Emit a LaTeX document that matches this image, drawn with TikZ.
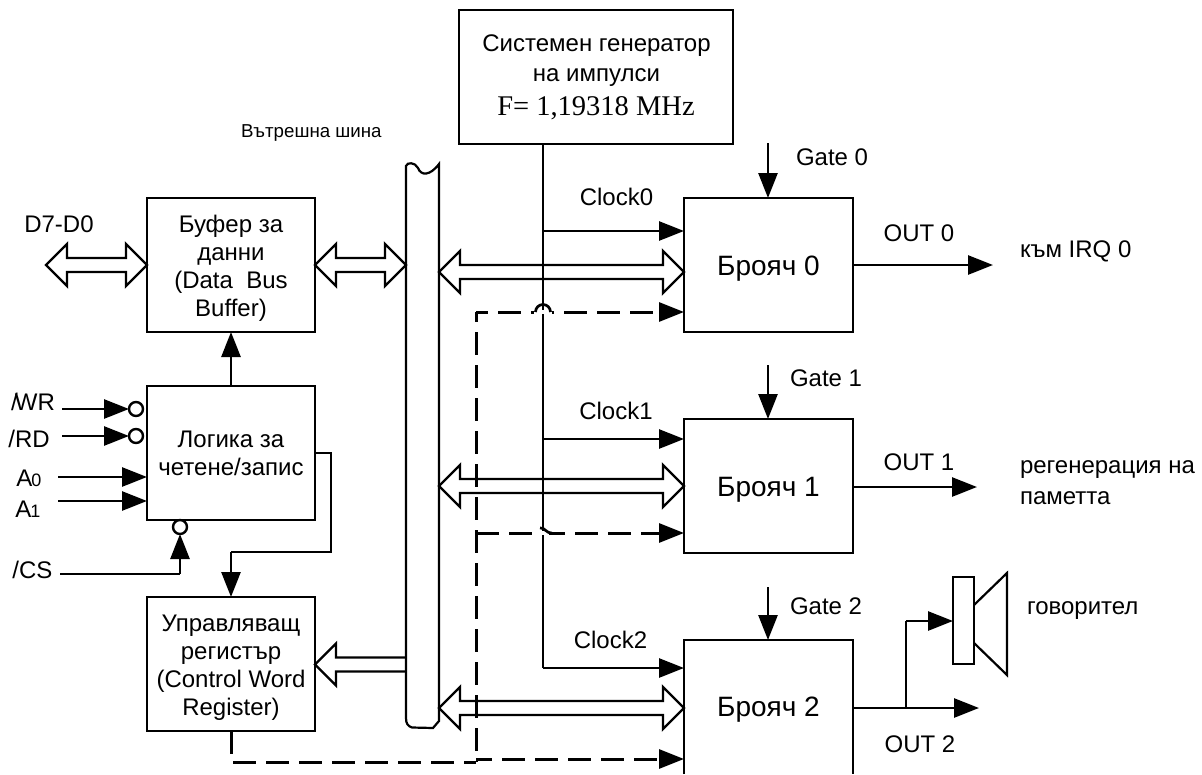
\documentclass[tikz,border=0pt]{standalone}
\usepackage{fontspec}
\setmainfont{Liberation Sans}
\newfontfamily\timesf{Liberation Serif}
\usetikzlibrary{arrows.meta,calc}
\tikzset{
  x=1pt,y=-1pt,
  every node/.style={font=\fontsize{24}{28}\selectfont,inner sep=0pt,outer sep=0pt},
  boxn/.style={draw,line width=2.7pt,align=center,minimum width=168pt,minimum height=134pt},
  cntbox/.style={draw,line width=2.7pt,minimum width=169pt,minimum height=134pt},
  wire/.style={line width=2.7pt},
  arr/.style={line width=2.7pt,-{Triangle[length=25pt,width=19pt]}},
  dashline/.style={line width=3pt,dash pattern=on 23pt off 10pt},
  dasharr/.style={line width=3pt,dash pattern=on 23pt off 10pt,-{Triangle[length=25pt,width=19pt]}},
  bubble/.style={circle,draw,line width=2.4pt,minimum size=14pt},
  lbl/.style={anchor=west},
  cntfont/.style={font=\fontsize{28}{28}\selectfont},
}
\newcommand{\hdbl}[2]{%
  \draw[line width=2.4pt,miter limit=10] let \p1=#1,\p2=#2 in
    (\x1,\y1)--(\x1+21pt,\y1+21pt)--(\x1+21pt,\y1+7pt)--(\x2-21pt,\y1+7pt)--(\x2-21pt,\y1+21pt)--(\x2,\y1)
    --(\x2-21pt,\y1-21pt)--(\x2-21pt,\y1-7pt)--(\x1+21pt,\y1-7pt)--(\x1+21pt,\y1-21pt)--cycle;}
\begin{document}
\begin{tikzpicture}
\useasboundingbox (0,0) rectangle (1202,774);
% main boxes
\node[boxn,minimum width=274pt] (gen) at (596,77) {};
\node (genA) at (596.5,46) {Системен генератор};
\node (genB) at (596.5,78) {на импулси};
\node[font=\timesf\fontsize{28.5}{28}\selectfont] (genC) at (596,108) {F= 1,19318 MHz};
\node[boxn] (buf) at (231,265) {\rule{0pt}{23.5pt}Буфер за\\данни\\(Data\ \ Bus\\Buffer)};
\node[boxn] (logic) at (231,453) {Логика за\\четене/запис};
\node[boxn] (ctrl) at (231,664) {\rule{0pt}{23pt}Управляващ\\регистър\\(Control Word\\Register)};
\node[cntbox,cntfont] (c0) at (768.5,265) {\rule{0pt}{26pt}Брояч 0};
\node[cntbox,cntfont] (c1) at (768.5,486) {\rule{0pt}{26pt}Брояч 1};
\node[cntfont] (c2) at (768.5,710) {Брояч 2};
\coordinate (c2bl) at (684,774);
\coordinate (c2tl) at (684,640);
\coordinate (c2tr) at (853,640);
\coordinate (c2br) at (853,774);
\draw[line width=2.7pt] (c2bl)--(c2tl)--(c2tr)--(c2br);
% internal bus
\draw[line width=2.2pt] (406,166) .. controls (407,162) and (415,162) .. (418,168)
  .. controls (421,176) and (430,176) .. (439,164) -- (439,721) -- (433,728) -- (412,727.5)
  .. controls (408,726) and (406,724) .. (406,718) -- cycle;
\node[font=\fontsize{18.7}{20}\selectfont,lbl] (busl) at (241,133) {Вътрешна шина};
% clock
\coordinate (clk) at (543,144);
\coordinate (cj0) at (543,231);
\coordinate (cj1) at (543,439);
\coordinate (cj2) at (543,668);
\coordinate (c0c) at (684,231);
\coordinate (c1c) at (684,439);
\coordinate (c2c) at (684,668);
\draw[wire] (clk)--(cj2);
\draw[arr] (cj0)--(c0c);
\draw[arr] (cj1)--(c1c);
\draw[arr] (cj2)--(c2c);
\node (clk0) at (616.5,197) {Clock0};
\node (clk1) at (616,411) {Clock1};
\node (clk2) at (610.5,640) {Clock2};
% double arrows
\coordinate (dL) at (46,265); \coordinate (bufW) at (147,265);
\coordinate (bufE) at (315,265); \coordinate (busW) at (406,265);
\coordinate (b0) at (439,272); \coordinate (b0r) at (684,272);
\coordinate (b1) at (439,486); \coordinate (b1r) at (684,486);
\coordinate (b2) at (439,708); \coordinate (b2r) at (684,708);
\hdbl{(dL)}{(bufW)}
\hdbl{(bufE)}{(busW)}
\hdbl{(b0)}{(b0r)}
\hdbl{(b1)}{(b1r)}
\hdbl{(b2)}{(b2r)}
% bus to control register
\coordinate (ctrlE) at (315,664.5);
\coordinate (busC) at (406,657.5);
\coordinate (busD) at (406,671.5);
\draw[line width=2.4pt,miter limit=10] (busC)--(336,657.5)--(336,643.5)--(ctrlE)--(336,685.5)--(336,671.5)--(busD);
% dashed control lines
\coordinate (dA) at (476,312);
\coordinate (dB) at (476,533);
\coordinate (dC) at (476,762);
\coordinate (dD) at (476,759);
\coordinate (ctlB) at (ctrl.south);
\coordinate (ctlC) at (231,762);
\coordinate (c0d) at (684,312);
\coordinate (c1d) at (684,533);
\coordinate (c2d) at (684,759);
\draw[dashline] (ctlB)--(ctlC)--(dC);
\draw[dashline,dash phase=13pt] (dA)--(dC);
\draw[dasharr,dash phase=11pt] (dA)--(c0d);
\draw[dasharr] (dB)--(c1d);
\draw[dasharr,dash phase=7pt] (dD)--(c2d);
% jumps
\draw[white,line width=4pt] (534,312)--(552,312);
\draw[wire] (535.5,312) arc[start angle=180,end angle=360,radius=7.5];
\draw[white,line width=4pt] (540,533)--(549,533);
\draw[wire] (540,528) .. controls (545,527) and (545,533) .. (552,533);
% logic connections
\draw[arr] (logic.north)--(buf.south);
\coordinate (lo0) at (315,453);
\coordinate (lo1) at (331,453);
\coordinate (lo2) at (331,552);
\coordinate (lo3) at (231,552);
\draw[wire] (lo0)--(lo1)--(lo2)--(lo3);
\draw[arr] (lo3)--(ctrl.north);
% logic inputs
\node[bubble] (wrb) at (136,409) {};
\node[bubble] (rdb) at (136,436) {};
\node[bubble] (csb) at (180,527) {};
\coordinate (wrs) at (62,409);
\coordinate (rds) at (62,436);
\coordinate (a0s) at (58,477);
\coordinate (a1s) at (58,501);
\coordinate (a0e) at (147,477);
\coordinate (a1e) at (147,501);
\coordinate (css) at (60,574);
\coordinate (csc) at (180,574);
\draw[arr] (wrs)--(wrb.west);
\draw[arr] (rds)--(rdb.west);
\draw[arr] (a0s)--(a0e);
\draw[arr] (a1s)--(a1e);
\draw[wire] (css)--(csc);
\draw[arr] (csc)--(csb.south);
\node (wrl) at (33,402) {/\kern-3pt WR};
\node (rdl) at (29,439) {/RD};
\node (a0l) at (29,478) {A\kern-1pt{\fontsize{18}{18}\selectfont 0}};
\node (a1l) at (28,509) {A\kern-1pt{\fontsize{18}{18}\selectfont 1}};
\node (csl) at (32.5,570) {/CS};
\node (dl) at (59,224) {D7-D0};
% gates
\coordinate (g0) at (768,143);
\coordinate (g1) at (768,365);
\coordinate (g2) at (768,587);
\draw[arr] (g0)--(c0.north -| g0);
\draw[arr] (g1)--(c1.north -| g1);
\draw[arr] (g2)--(c2tl -| g2);
\node[lbl] (g0l) at (796,157) {Gate 0};
\node[lbl] (g1l) at (790,378) {Gate 1};
\node[lbl] (g2l) at (790,606) {Gate 2};
% outputs
\coordinate (o0) at (993,265);
\coordinate (o1s) at (853,487);
\coordinate (o1) at (977,487);
\coordinate (o2s) at (853,708);
\coordinate (o2) at (979,708);
\coordinate (o2j) at (906,708);
\coordinate (o2k) at (906,621);
\draw[arr] (c0.east)--(o0);
\draw[arr] (o1s)--(o1);
\draw[arr] (o2s)--(o2);
\draw[wire] (o2j)--(o2k);
\node (o0l) at (919,233) {OUT 0};
\node (o1l) at (919,462) {OUT 1};
\node (o2l) at (920,744) {OUT 2};
\node[lbl] (irq) at (1020,251) {към IRQ 0};
\node[lbl] (reg) at (1020,470) {регенерация на};
\node[lbl] (pam) at (1020,498) {паметта};
% speaker
\node[draw,line width=2.2pt,minimum width=21pt,minimum height=87pt] (spk) at (963.5,620.5) {};
\coordinate (sa) at (974,605);
\coordinate (sb) at (1007,573);
\coordinate (sc) at (1007,675);
\coordinate (sd) at (974,643);
\draw[line width=2.2pt,line join=miter] (sa)--(sb)--(sc)--(sd);
\draw[arr] (o2k)--(spk.west |- o2k);
\node[lbl] (spkl) at (1027,611) {говорител};
\end{tikzpicture}
\end{document}
